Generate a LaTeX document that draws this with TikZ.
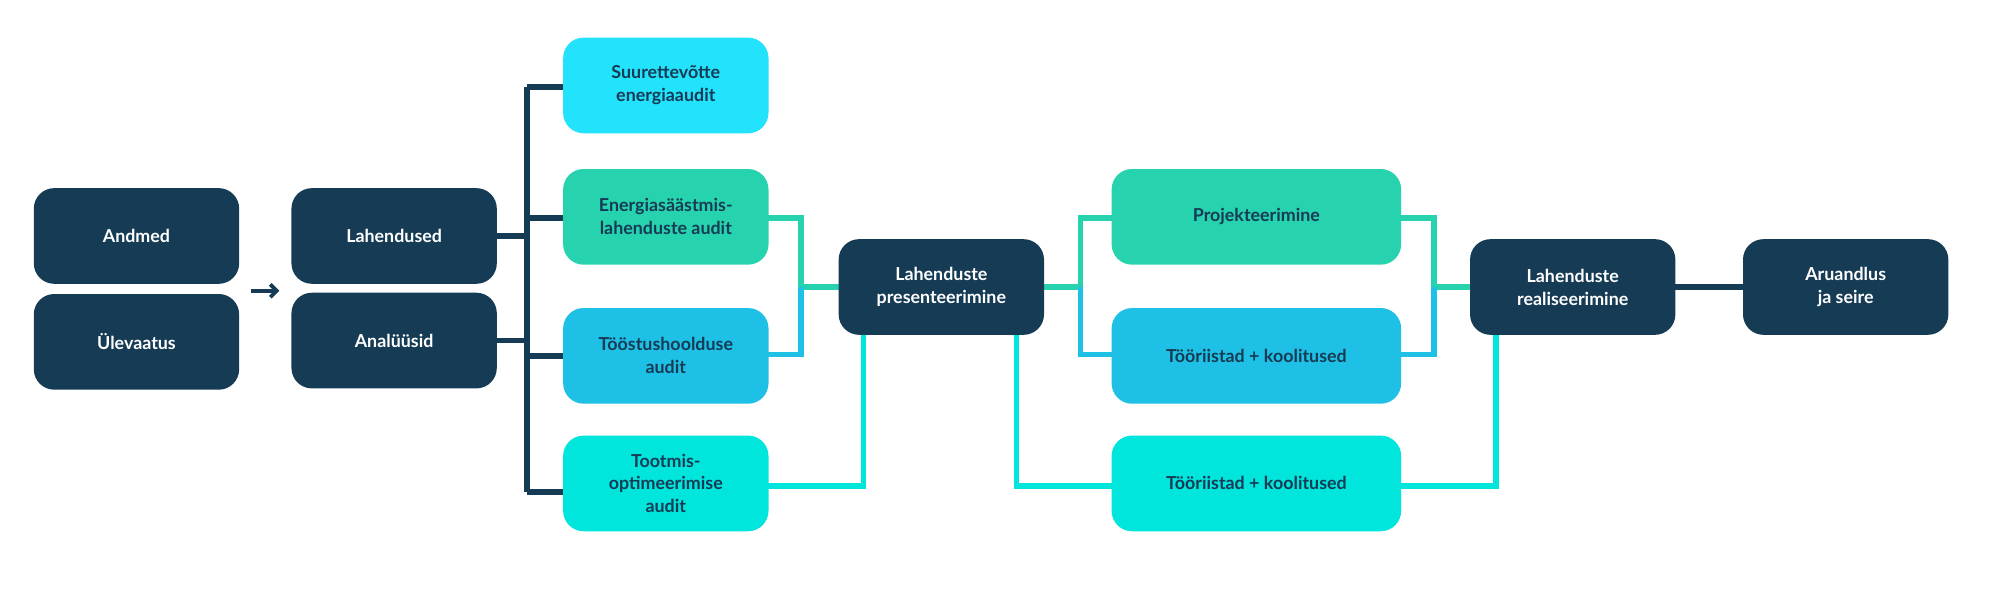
\documentclass[tikz,border=0pt]{standalone}
\usepackage{fontspec}
\setmainfont{Lato}
\usetikzlibrary{arrows.meta}
\definecolor{navy}{HTML}{163B55}
\definecolor{sky}{HTML}{22E2FC}
\definecolor{mint}{HTML}{26D3AE}
\definecolor{azure}{HTML}{1EC0E5}
\definecolor{aqua}{HTML}{00E5DC}
\tikzset{
    box/.style={rounded corners=16pt, minimum width=161pt, minimum height=75pt,
        align=center, font=\bfseries\fontsize{14}{18}\selectfont, inner sep=0pt},
    darkbox/.style={box, fill=navy, text=white},
    lightbox/.style={box, text=navy},
    wide/.style={minimum width=227pt},
    link/.style={line width=4.5pt}
}
\begin{document}
\begin{tikzpicture}[x=1pt,y=-1pt]
    \useasboundingbox (0,0) rectangle (1568,461);
    % Connectors first
    \coordinate (trunk top) at (413,68);
    \coordinate (trunk bot) at (413,386);
    \draw[link, navy] (trunk top) -- (trunk bot);
    \foreach \y in {68,171,279,386} {
        \draw[link, navy] (413,\y) -- (445,\y);
    }
    \foreach \y in {185,267} {
        \draw[link, navy] (386,\y) -- (413,\y);
    }
    % Audit to presentation
    \draw[link, mint] (600,171) -- (628,171) -- (628,225) -- (660,225);
    \draw[link, azure] (600,278) -- (628,278) -- (628,225);
    \draw[link, aqua] (600,381) -- (677,381) -- (677,260);
    % Presentation to tasks
    \draw[link, mint] (815,225) -- (847,225) -- (847,171) -- (875,171);
    \draw[link, azure] (847,225) -- (847,278) -- (875,278);
    \draw[link, aqua] (797,260) -- (797,381) -- (875,381);
    % Tasks to realisation
    \draw[link, mint] (1096,171) -- (1124,171) -- (1124,225) -- (1156,225);
    \draw[link, azure] (1096,278) -- (1124,278) -- (1124,225);
    \draw[link, aqua] (1096,381) -- (1173,381) -- (1173,260);
    \draw[link, navy] (1310,225) -- (1369,225);
    % Boxes
    \node[darkbox] (data) at (107,185) {Andmed};
    \node[darkbox] (review) at (107,268) {Ülevaatus};
    \node[darkbox] (solutions) at (309,185) {Lahendused};
    \node[darkbox] (analyses) at (309,267) {Analüüsid};
    \node[lightbox, fill=sky] (largeaudit) at (522,67) {Suurettevõtte\\energiaaudit};
    \node[lightbox, fill=mint] (saveaudit) at (522,170) {Energiasäästmis-\\lahenduste audit};
    \node[lightbox, fill=azure] (maintaudit) at (522,279) {Tööstushoolduse\\audit};
    \node[lightbox, fill=aqua] (prodaudit) at (522,379) {Tootmis-\\optimeerimise\\audit};
    \node[darkbox] (present) at (738,225) {Lahenduste\\presenteerimine};
    \node[lightbox, wide, fill=mint] (design) at (985,170) {Projekteerimine};
    \node[lightbox, wide, fill=azure] (toolsa) at (985,279) {Tööriistad + koolitused};
    \node[lightbox, wide, fill=aqua] (toolsb) at (985,379) {Tööriistad + koolitused};
    \node[darkbox] (realise) at (1233,225) {Lahenduste\\realiseerimine};
    \node[darkbox] (report) at (1447,225) {Aruandlus\\ja seire};
    % Arrow between the pairs
    \coordinate (arrow in) at (197,228);
    \coordinate (arrow out) at (219,228);
    \draw[navy, line width=3pt, -{Straight Barb[length=5pt]}] (arrow in) -- (arrow out);
\end{tikzpicture}
\end{document}
